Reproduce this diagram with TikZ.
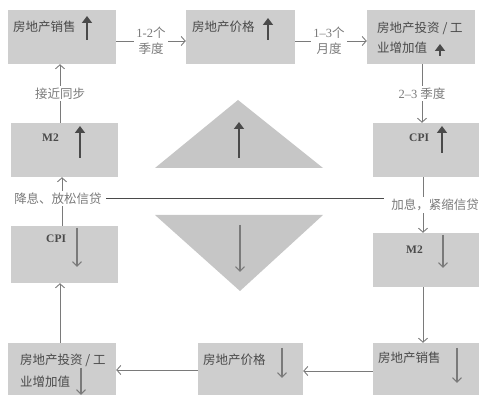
\documentclass[tikz,border=0pt]{standalone}
\usepackage{fontspec}
\setmainfont{Liberation Serif}
\newfontfamily\cjk{Noto Sans CJK SC}
\usetikzlibrary{arrows.meta}
\definecolor{boxfill}{HTML}{CECECE}
\definecolor{trifill}{HTML}{C6C6C6}
\definecolor{txt}{HTML}{4A4A4A}
\definecolor{ln}{HTML}{7A7A7A}
\definecolor{dk}{HTML}{4A4A4A}
\begin{document}
\begin{tikzpicture}[x=1pt,y=-1pt,
  box/.style={draw=none,fill=boxfill,inner sep=0pt,minimum height=54pt},
  intext/.style={text=txt,font=\cjk\fontsize{12.5}{15}\selectfont,inner sep=0pt,anchor=west},
  latin/.style={text=txt,font=\bfseries\fontsize{11.5}{13}\selectfont,inner sep=0pt,anchor=west},
  lab/.style={fill=white,text=ln,font=\cjk\fontsize{12.5}{16}\selectfont,inner sep=2pt,align=center},
  conn/.style={draw=ln,line width=0.9pt,-{Straight Barb[length=4pt,width=9pt]}},
  upthick/.style={draw=dk,line width=2.2pt,-{Triangle[length=7pt,width=10pt]}},
  downthin/.style={draw=ln,line width=1.1pt,-{Straight Barb[length=4.5pt,width=9pt]}}]
\useasboundingbox (0,0) rectangle (483,395);
% boxes
\node[box,minimum width=108pt] (TL) at (62,37) {};
\node[box,minimum width=109pt] (TM) at (240.5,37) {};
\node[box,minimum width=108pt] (TR) at (421,37) {};
\node[box,minimum width=107pt] (LM2) at (64.5,150) {};
\node[box,minimum width=107pt,minimum height=57pt] (LCPI) at (64.5,254.5) {};
\node[box,minimum width=106pt] (RCPI) at (426,150) {};
\node[box,minimum width=106pt] (RM2) at (426,260) {};
\node[box,minimum width=108pt,minimum height=52pt] (BL) at (62,369) {};
\node[box,minimum width=105pt,minimum height=52pt] (BM) at (250.5,369) {};
\node[box,minimum width=106pt,minimum height=52pt] (BR) at (426,369) {};
% triangles
\fill[trifill] (155,168) -- (238,100) -- (323,168) -- cycle;
\fill[trifill] (155,215) -- (323,215) -- (240,291) -- cycle;
\draw[upthick] (239,158) -- (239,122);
\draw[downthin] (240,225) -- (240,272);
% texts in boxes
\node[intext] (tTL) at (13,27) {房地产销售};
\draw[upthick] (87,40) -- (87,16);
\node[intext] (tTM) at (192,27) {房地产价格};
\draw[upthick] (268,40) -- (268,18);
\node[intext] (tTR1) at (377,28) {房地产投资 / 工};
\node[intext] (tTR2) at (377,48) {业增加值};
\draw[upthick] (440,56) -- (440,44);
\node[latin] (tLM2) at (42,138) {M2};
\draw[upthick] (80,158) -- (80,126);
\node[latin] (tLCPI) at (46,239) {CPI};
\draw[downthin] (77,228) -- (77,267);
\node[latin] (tRCPI) at (409,138) {CPI};
\draw[upthick] (442,153) -- (442,126);
\node[latin] (tRM2) at (406,250) {M2};
\draw[downthin] (443,235) -- (443,268);
\node[intext] (tBL1) at (20,360) {房地产投资 / 工};
\node[intext] (tBL2) at (20,382) {业增加值};
\draw[downthin] (81,368) -- (81,395);
\node[intext] (tBM) at (203,360) {房地产价格};
\draw[downthin] (282,348) -- (282,378);
\node[intext] (tBR) at (378,358) {房地产销售};
\draw[downthin] (457,348) -- (457,383);
% connectors
\draw[conn] ([yshift=-4pt]TL.east) -- node[lab]{{\rmfamily 1-2}个\\季度} ([yshift=-4pt]TM.west);
\draw[conn] ([yshift=-4pt]TM.east) -- node[lab,xshift=-2pt]{{\rmfamily 1–3}个\\月度} ([yshift=-4pt]TR.west);
\draw[conn] ([xshift=1pt]TR.south) -- node[lab]{{\rmfamily 2–3} 季度} ([xshift=-4pt]RCPI.north);
\draw[conn] ([xshift=-3pt]RCPI.south) -- node[lab,xshift=12pt] (rLab) {加息，紧缩信贷} ([xshift=-3pt]RM2.north);
\draw[conn] ([xshift=-3pt]RM2.south) -- ([xshift=-3pt]BR.north);
\draw[conn] ([yshift=-2pt]BR.west) -- ([yshift=-2pt]BM.east);
\draw[conn] ([yshift=-1pt]BM.west) -- ([yshift=-1pt]BL.east);
\draw[conn] ([xshift=-2pt]BL.north) -- ([xshift=-4.5pt]LCPI.south);
\draw[conn] ([xshift=-2.5pt]LCPI.north) -- node[lab,xshift=-4pt,yshift=3pt] (lLab) {降息、放松信贷} ([xshift=-2.5pt]LM2.south);
\draw[conn] ([xshift=-4.5pt]LM2.north) -- node[lab] {接近同步} ([xshift=-2pt]TL.south);
\draw[dk,line width=1.6pt,shorten <=2pt,shorten >=5pt] (lLab.east) -- (lLab.east -| rLab.west);
\end{tikzpicture}
\end{document}
